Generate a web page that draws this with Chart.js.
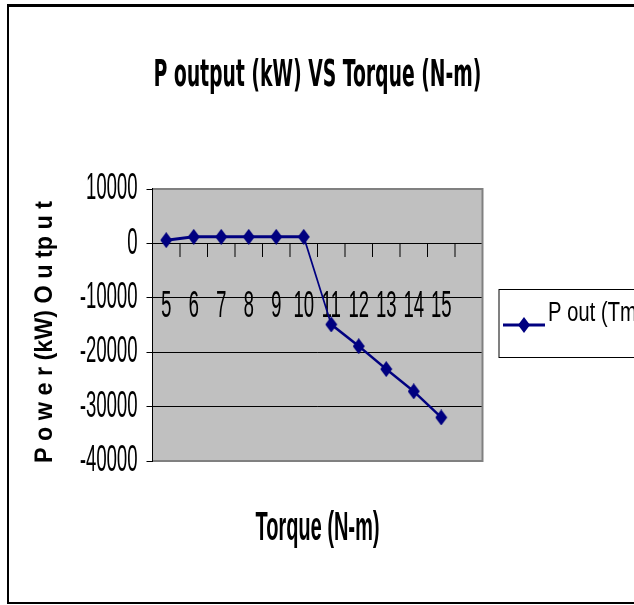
<!DOCTYPE html>
<html>
<head>
<meta charset="utf-8">
<script src="https://cdn.jsdelivr.net/npm/chart.js@4.4.0/dist/chart.umd.min.js"></script>
<style>
  html, body { margin: 0; padding: 0; width: 634px; height: 605px; overflow: hidden; background: #fff; }
  #frame { position: absolute; left: 7px; top: 4px; width: 700px; height: 595px; border-top: 3px solid #000; border-left: 2px solid #000; border-bottom: 2px solid #000; }
  #wrap { position: absolute; left: 0; top: 0; width: 1268px; height: 605px; transform: scaleX(0.5); transform-origin: 0 0; }
</style>
</head>
<body>
<div id="frame"></div>
<div id="wrap"><canvas id="chartPower"></canvas></div>
<script>
const torque = ['5', '6', '7', '8', '9', '10', '11', '12', '13', '14', '15', '']
const powerOut = [600, 1200, 1200, 1200, 1200, 1200, -14900, -18900, -23100, -27200, -32000, null]
const yMin = -40000
const yMax = 10000
const yStep = 10000

const sans = "'Liberation Sans', Arial, sans-serif"
const dejavu = "'DejaVu Sans', sans-serif"
const navy = '#000080'

// wide navy diamond marker (the page is squeezed sideways afterwards)
const diamond = document.createElement('canvas')
diamond.width = 24
diamond.height = 16
const dctx = diamond.getContext('2d')
dctx.fillStyle = navy
dctx.beginPath()
dctx.moveTo(12, 0)
dctx.lineTo(24, 8)
dctx.lineTo(12, 16)
dctx.lineTo(0, 8)
dctx.closePath()
dctx.fill()

// grey plot area + frame (left side stays the black axis)
const plotFrame = {
  id: 'plotFrame',
  beforeDraw(chart) {
    const { ctx, chartArea: a } = chart
    ctx.save()
    ctx.fillStyle = '#c0c0c0'
    ctx.fillRect(a.left, a.top, a.right - a.left, a.bottom - a.top)
    ctx.restore()
  },
  beforeDatasetsDraw(chart) {
    const { ctx, chartArea: a } = chart
    ctx.save()
    ctx.strokeStyle = '#808080'
    ctx.lineWidth = 2
    ctx.beginPath()
    ctx.moveTo(a.left + 1, a.top)
    ctx.lineTo(a.right, a.top)
    ctx.moveTo(a.left + 1, a.bottom)
    ctx.lineTo(a.right, a.bottom)
    ctx.stroke()
    ctx.lineWidth = 4
    ctx.beginPath()
    ctx.moveTo(a.right, a.top - 1)
    ctx.lineTo(a.right, a.bottom + 1)
    ctx.stroke()
    ctx.restore()
  }
}

// rotated, letter-spaced value axis title like the old excel export
const yAxisTitle = {
  id: 'yAxisTitle',
  afterDraw(chart) {
    const { ctx, chartArea: a } = chart
    const t = chart.options.scales.y.title
    ctx.save()
    ctx.translate(90, (a.top + a.bottom) / 2 + 7)
    ctx.rotate(-Math.PI / 2)
    ctx.scale(0.467, 1)
    ctx.font = 'bold 50px ' + sans
    ctx.textAlign = 'center'
    ctx.textBaseline = 'middle'
    ctx.fillStyle = '#000'
    ctx.fillText(t.text, 0, 0)
    ctx.restore()
  }
}

// excel style legend box, cut by the right edge
const legendBox = {
  id: 'legendBox',
  afterDraw(chart) {
    const { ctx } = chart
    const ds = chart.data.datasets[0]
    ctx.save()
    ctx.strokeStyle = '#000'
    ctx.lineWidth = 1
    ctx.beginPath()
    ctx.moveTo(998, 289.5)
    ctx.lineTo(1268, 289.5)
    ctx.moveTo(998, 357.5)
    ctx.lineTo(1268, 357.5)
    ctx.stroke()
    ctx.lineWidth = 2
    ctx.beginPath()
    ctx.moveTo(998, 289)
    ctx.lineTo(998, 358)
    ctx.stroke()

    ctx.strokeStyle = ds.borderColor
    ctx.lineWidth = 3
    ctx.beginPath()
    ctx.moveTo(1006, 325)
    ctx.lineTo(1090, 325)
    ctx.stroke()
    Chart.helpers.drawPoint(ctx, {
      pointStyle: ds.pointStyle,
      radius: ds.pointRadius,
      borderWidth: 0
    }, 1048, 325)

    ctx.fillStyle = '#000'
    ctx.font = '27px ' + sans
    ctx.textBaseline = 'middle'
    ctx.translate(1096, 314)
    ctx.scale(1.5, 1)
    ctx.fillText(ds.label, 0, 0)
    ctx.restore()
  }
}

const chartPower = new Chart(document.getElementById('chartPower'), {
  type: 'line',
  data: {
    labels: torque,
    datasets: [
      {
        label: 'P out (Tm)',
        data: powerOut,
        borderColor: navy,
        backgroundColor: navy,
        pointBackgroundColor: navy,
        pointBorderColor: navy,
        borderWidth: 3,
        pointStyle: diamond,
        pointRadius: 8,
        pointBorderWidth: 0,
        fill: false,
        tension: 0
      }
    ]
  },
  options: {
    responsive: true,
    maintainAspectRatio: false,
    animation: false,
    events: [],
    layout: {
      padding: { left: 20, right: 303, top: 8, bottom: 52 }
    },
    scales: {
      x: {
        type: 'category',
        position: { y: 0 },
        offset: true,
        grid: {
          offset: true,
          drawOnChartArea: false,
          color: '#000',
          lineWidth: 2,
          tickLength: 13
        },
        border: { display: true, color: '#000', width: 1 },
        ticks: {
          color: '#000',
          font: { family: sans, size: 37 },
          padding: 28,
          maxRotation: 0,
          autoSkip: false
        }
      },
      x2: {
        type: 'category',
        position: 'bottom',
        labels: torque,
        grid: { display: false, drawTicks: false },
        border: { display: false },
        ticks: { display: false },
        title: {
          display: true,
          text: 'Torque (N-m)',
          color: '#000',
          font: { family: sans, size: 40, weight: 'bold' },
          padding: { top: 44, bottom: 0 }
        }
      },
      y: {
        min: yMin,
        max: yMax,
        afterFit: (scale) => { scale.width = 285 },
        ticks: {
          stepSize: yStep,
          color: '#000',
          font: { family: sans, size: 37 },
          padding: 18,
          callback: (v) => String(v)
        },
        grid: {
          color: '#000',
          lineWidth: 1,
          tickColor: '#000',
          tickLength: 12
        },
        border: { display: true, color: '#000', width: 2 },
        title: {
          display: false,
          text: 'P o w e r (kW) O u tp u t'
        }
      }
    },
    plugins: {
      legend: { display: false },
      tooltip: { enabled: false },
      title: {
        display: true,
        text: 'P output (kW) VS Torque (N-m)',
        fullSize: false,
        color: '#000',
        font: { family: dejavu, size: 37.5, weight: 'bold' },
        padding: { top: 46, bottom: 90 }
      }
    }
  },
  plugins: [plotFrame, yAxisTitle, legendBox]
})
</script>
</body>
</html>
